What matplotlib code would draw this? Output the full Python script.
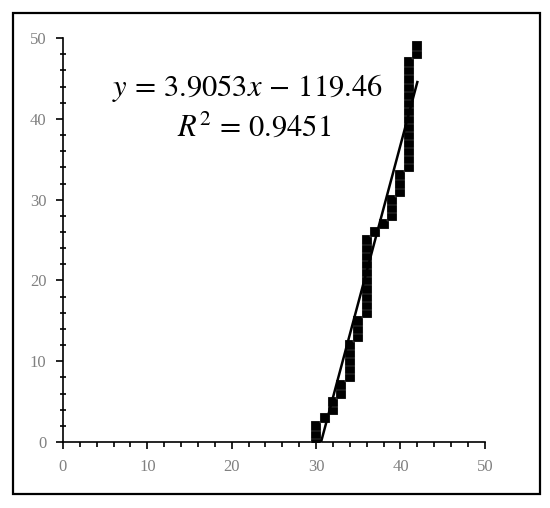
import numpy as np
import matplotlib
matplotlib.use("Agg")
import matplotlib.pyplot as plt
from matplotlib.patches import Rectangle
from matplotlib.ticker import MultipleLocator

# observed values: x value and its cumulative rank
x_vals = [30, 30, 30, 31, 32, 32, 33, 33, 34, 34, 34, 34, 34, 35, 35, 35,
          36, 36, 36, 36, 36, 36, 36, 36, 36, 36, 37, 38, 39, 39, 39,
          40, 40, 40, 41, 41, 41, 41, 41, 41, 41, 41, 41, 41, 41, 41, 41, 41,
          42, 42]
y_vals = list(range(50))

# trendline as reported on the chart
slope = 3.9053
intercept = -119.46
r2 = 0.9451

plt.rcParams['font.family'] = ['Liberation Serif', 'DejaVu Serif']
plt.rcParams['mathtext.fontset'] = 'stix'

fig = plt.figure(figsize=(5.5, 5.08), dpi=100)
ax = fig.add_axes([0.1145, 0.1299, 0.767, 0.795])

# outer frame around the whole chart
fig.patches.append(Rectangle((13 / 550, 14 / 508), 527 / 550, 481 / 508,
                             transform=fig.transFigure, fill=False,
                             edgecolor='black', linewidth=1.6))

ax.plot(x_vals, y_vals, linestyle='none', marker='s', markersize=6.6,
        markerfacecolor='black', markeredgecolor='#e8e8e8',
        markeredgewidth=0.15, zorder=3)

xs = np.array([min(x_vals), max(x_vals)])
ax.plot(xs, slope * xs + intercept, color='black', linewidth=1.8, zorder=4)

ax.set_xlim(0, 50)
ax.set_ylim(0, 50)
ax.spines['top'].set_visible(False)
ax.spines['right'].set_visible(False)
ax.spines['left'].set_linewidth(1.2)
ax.spines['bottom'].set_linewidth(1.2)

ax.xaxis.set_major_locator(MultipleLocator(10))
ax.xaxis.set_minor_locator(MultipleLocator(2))
ax.yaxis.set_major_locator(MultipleLocator(10))
ax.yaxis.set_minor_locator(MultipleLocator(2))
ax.tick_params(which='major', direction='out', length=5, width=1.2,
               labelsize=12, labelcolor='#808080', pad=7)
ax.tick_params(axis='x', which='minor', direction='out', length=3.5, width=1.2)
ax.tick_params(axis='y', which='minor', direction='inout', length=5, width=1.2)

ax.text(0.436, 0.876, r'$y\,=\,3.9053x\,-\,119.46$', transform=ax.transAxes,
        ha='center', va='center', fontsize=22)
ax.text(0.453, 0.777, r'$R^2\,=\,0.9451$', transform=ax.transAxes,
        ha='center', va='center', fontsize=22)

fig.savefig('out.png', dpi=100)
